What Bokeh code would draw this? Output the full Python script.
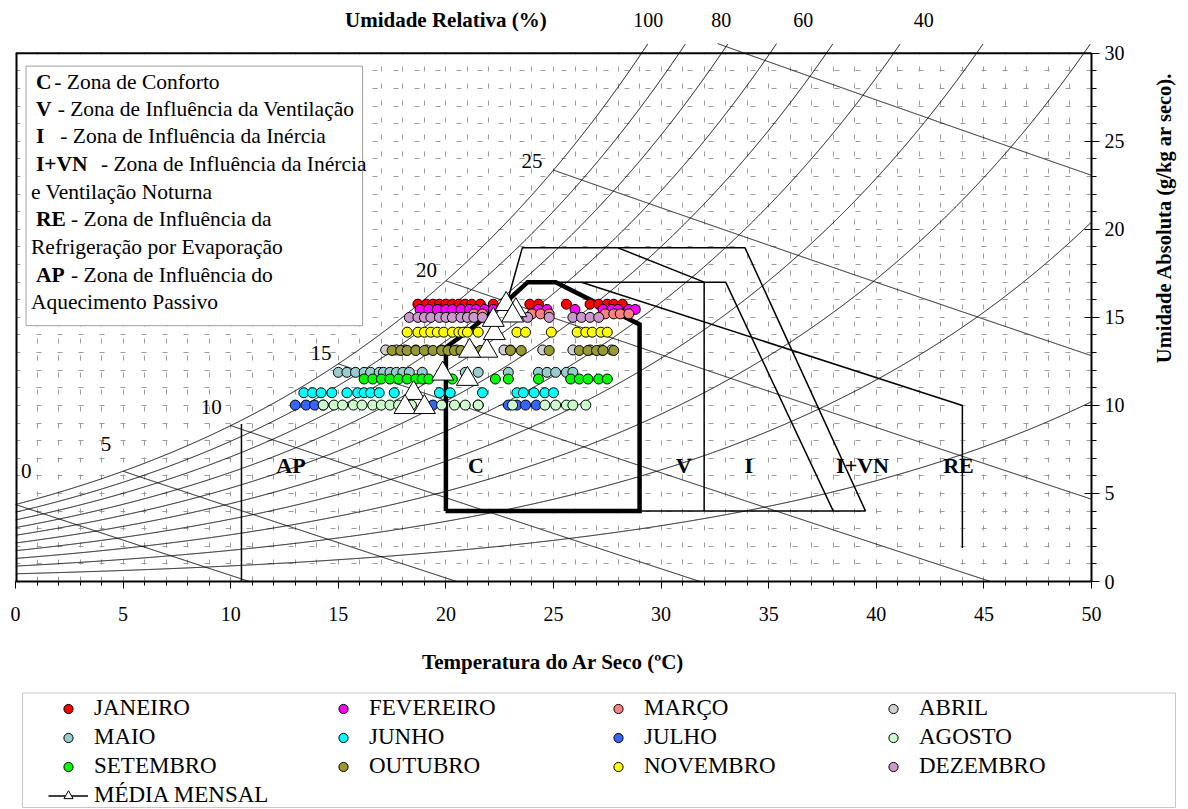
import math
import numpy as np
from bokeh.plotting import figure
from bokeh.layouts import column
from bokeh.models import Range1d, SingleIntervalTicker, FixedTicker, Legend, LegendItem, LinearAxis
from bokeh.embed import file_html
from bokeh.resources import INLINE
from bokeh.core.properties import value

FONT = "Liberation Serif"

# ---------------- data ----------------
months = ["JANEIRO", "FEVEREIRO", "MARÇO", "ABRIL", "MAIO", "JUNHO",
          "JULHO", "AGOSTO", "SETEMBRO", "OUTUBRO", "NOVEMBRO", "DEZEMBRO"]
month_colors = ["#FF0000", "#FF00FF", "#FF8080", "#D0D0D0", "#99CCCC", "#00FFFF",
                "#3366FF", "#CCFFCC", "#00FF00", "#999933", "#FFFF00", "#CC99CC"]
month_w = [15.75, 15.45, 15.2, 13.15, 11.88, 10.72, 10.02, 10.02, 11.5, 13.12, 14.16, 15.0]

jan_T = [18.7, 19.1, 19.4, 19.7, 20.0, 20.3, 20.6, 20.9, 21.2, 21.6, 22.2, 23.9, 24.3, 25.6, 26.7, 27.1, 27.5, 27.8, 28.2]
fev_T = [18.8, 19.2, 19.6, 20.0, 20.3, 20.7, 21.1, 21.4, 21.8, 22.2, 24.3, 24.7, 26.0, 27.3, 27.7, 28.0, 28.5, 28.8]
mar_T = [21.3, 21.7, 24.0, 24.4, 24.8, 27.4, 27.8, 28.1, 28.5]
abr_T = [17.2, 17.7, 18.1, 18.6, 19.1, 19.8, 20.5, 21.2, 22.7, 23.0, 24.5, 25.9, 26.7, 27.2, 27.7]
mai_T = [15.0, 15.4, 15.8, 16.2, 16.5, 16.9, 17.1, 17.4, 17.7, 18.0, 18.3, 18.9, 20.9, 21.5, 22.9, 24.3, 24.7, 25.1, 25.6, 25.9]
jun_T = [13.4, 13.8, 14.2, 14.7, 15.4, 15.9, 16.2, 16.5, 16.9, 17.6, 19.7, 20.2, 21.7, 23.3, 23.6, 24.1, 24.6, 25.0]
jul_T = [13.0, 13.5, 13.9, 14.3, 19.4, 21.5, 22.9, 23.3, 23.7, 24.2]
ago_T = [14.3, 14.8, 15.2, 15.7, 16.1, 16.6, 17.0, 17.4, 17.8, 18.4, 19.8, 20.4, 20.9, 21.5, 23.1, 24.6, 25.1, 25.6, 25.9, 26.5]
set_T = [16.2, 16.6, 17.0, 17.4, 17.8, 18.2, 18.6, 18.9, 19.2, 20.3, 22.3, 22.9, 24.3, 25.8, 26.2, 26.6, 27.1, 27.5]
out_T = [17.5, 17.9, 18.2, 18.6, 19.0, 19.4, 19.8, 20.1, 20.4, 20.7, 21.1, 21.6, 23.0, 23.5, 24.8, 26.2, 26.6, 27.0, 27.3, 27.8]
nov_T = [18.2, 18.7, 19.0, 19.3, 19.6, 19.9, 20.3, 20.6, 20.8, 21.0, 21.5, 23.3, 23.7, 24.9, 26.1, 26.5, 26.8, 27.2, 27.5]
dez_T = [18.3, 18.7, 19.0, 19.3, 19.7, 20.0, 20.3, 20.7, 21.0, 21.3, 21.7, 23.8, 24.8, 25.9, 26.3, 26.7, 27.1]
month_T = [jan_T, fev_T, mar_T, abr_T, mai_T, jun_T, jul_T, ago_T, set_T, out_T, nov_T, dez_T]

mean_T = [22.8, 23.25, 23.1, 21.9, 19.85, 18.5, 18.1, 19.0, 21.0, 21.1, 22.25, 22.2]
mean_w = [15.75, 15.4, 15.1, 13.1, 11.8, 10.7, 9.9, 9.9, 11.5, 13.1, 14.1, 14.85]

rh_levels = [100, 90, 80, 70, 60, 50, 40, 30, 20, 10]
rh_label_text = ["100", "80", "60", "40"]
rh_label_T = [29.4, 32.8, 36.6, 42.2]
rh_title = "Umidade Relativa (%)"
top_label_w = 31.9

wb_levels = [0, 5, 10, 15, 20, 25, 30]
wb_label_text = ["0", "5", "10", "15", "20", "25"]
wb_label_T = [0.5, 4.2, 9.1, 14.2, 19.1, 24.0]
wb_label_w = [6.3, 7.8, 9.9, 13.0, 17.7, 23.9]

comfort_T = [20, 20, 21, 22, 23, 23.8, 25.1, 29, 29, 20]
comfort_w = [4, 13.3, 14.2, 15.15, 16.1, 17, 17, 14.6, 4, 4]
zone_lines_T = [[22.9, 23.55, 33.9, 39.5], [28.0, 32.0, 32.0], [25.1, 33.0, 38.0],
                [29.0, 39.5], [26.3, 44.0, 44.0], [10.5, 10.5]]
zone_lines_w = [[16.1, 18.95, 18.95, 4.0], [18.95, 17.0, 4.0], [17.0, 17.0, 4.0],
                [4.0, 4.0], [17.0, 10.0, 1.9], [0.0, 8.95]]
zone_label_text = ["AP", "C", "V", "I", "I+VN", "RE"]
zone_label_T = [12.8, 21.4, 31.05, 34.07, 39.36, 43.82]
zone_label_w = [6.56] * 6

info_box = dict(left=0.49, right=16.13, bottom=14.53, top=29.27)
info_rows_w = [28.37, 26.86, 25.28, 23.73, 22.12, 20.56, 18.99, 17.42, 15.9]
info_bold_text = ["C", "V", "I", "I+VN", "RE", "AP"]
info_bold_rows = [0, 1, 2, 3, 5, 7]
info_bold_T = 0.95
info_normal_text = ["- Zona de Conforto", "- Zona de Influência da Ventilação",
                    "- Zona de Influência da Inércia", "- Zona de Influência da Inércia",
                    "e Ventilação Noturna", "- Zona de Influência da",
                    "Refrigeração por Evaporação", "- Zona de Influência do",
                    "Aquecimento Passivo"]
info_normal_T = [1.80, 1.96, 2.08, 3.97, 0.72, 2.58, 0.72, 2.58, 0.72]

y_title = "Umidade Absoluta (g/kg ar seco)."
y_title_pos = 124   # tenths of g/kg: where the rotated title starts

P_ATM = 87.5     # kPa, station pressure of the psychrometric chart
W_MAX = 30.0     # top of the chart
W_EXT = 30.55    # curves run slightly past the top edge
Y_TOP = 32.6


def p_sat(t):
    return 0.61078 * np.exp(17.27 * t / (t + 237.3))


def w_sat(t):
    ps = p_sat(t)
    return 622.0 * ps / (P_ATM - ps)


# ---------------- main figure ----------------
p = figure(frame_width=1076, frame_height=574,
           x_range=Range1d(0, 50), y_range=Range1d(0, Y_TOP),
           y_axis_location="right", output_backend="svg", toolbar_location=None,
           min_border_left=15, min_border_top=7, min_border_right=2, min_border_bottom=0)
p.background_fill_color = "white"
p.outline_line_color = None
p.extra_y_ranges = {"tenths": Range1d(0, Y_TOP * 10)}

xa = p.xaxis[0]
ya = p.yaxis[0]
for ax in (xa, ya):
    ax.axis_line_width = 2
    ax.axis_line_color = "black"
    ax.major_label_text_font = FONT
    ax.major_label_text_font_size = "20px"
    ax.major_label_text_color = "black"
    ax.axis_label_text_font = FONT
    ax.axis_label_text_font_style = "bold"
    ax.axis_label_text_color = "black"
xa.ticker = SingleIntervalTicker(interval=5, num_minor_ticks=5)
xa.major_tick_out = 7
xa.major_tick_in = 0
xa.minor_tick_out = 4
xa.minor_tick_in = 0
xa.major_label_standoff = 18
xa.axis_label = "Temperatura do Ar Seco (ºC)"
xa.axis_label_text_font_size = "21px"
xa.axis_label_standoff = 26

ya.ticker = FixedTicker(ticks=[0, 5, 10, 15, 20, 25, 30], minor_ticks=list(range(0, 31)))
ya.bounds = (0, W_MAX)
ya.major_tick_out = 8
ya.major_tick_in = 7
ya.minor_tick_out = 5
ya.minor_tick_in = 0
ya.major_label_standoff = 5

# rotated title of the humidity axis
ya2 = LinearAxis(y_range_name="tenths", ticker=FixedTicker(ticks=[y_title_pos]),
                 major_label_overrides={y_title_pos: y_title},
                 major_label_orientation=math.pi / 2,
                 major_label_text_font=FONT, major_label_text_font_style="bold",
                 major_label_text_font_size="20.5px", major_label_text_color="black",
                 major_label_standoff=37,
                 axis_line_color=None, major_tick_line_color=None, minor_tick_line_color=None,
                 major_tick_out=0, major_tick_in=0, minor_tick_out=0, minor_tick_in=0)
p.add_layout(ya2, "right")

p.xgrid.ticker = FixedTicker(ticks=list(range(1, 50)))
p.ygrid.ticker = FixedTicker(ticks=list(range(1, 30)))
p.xgrid.grid_line_color = "#9c9c9c"
p.ygrid.grid_line_color = "#9c9c9c"
p.xgrid.grid_line_dash = "5 12"
p.ygrid.grid_line_dash = "5 16"

# blank band above the chart (holds the relative humidity labels)
p.quad(left=[0], right=[50], bottom=[W_MAX], top=[40], fill_color="white", line_color=None)

# relative humidity curves
T_grid = np.linspace(0, 50, 2501)
rh_xs, rh_ys = [], []
for rh in rh_levels:
    w = rh / 100.0 * w_sat(T_grid)
    m = w <= W_EXT
    rh_xs.append(T_grid[m].tolist())
    rh_ys.append(w[m].tolist())
p.multi_line(rh_xs, rh_ys, line_color="black", line_width=1)

# wet bulb lines
wb_xs, wb_ys = [], []
for twb in wb_levels:
    ws = w_sat(twb) / 1000.0
    t = np.linspace(twb, 60, 3000)
    W = ((2501 - 2.326 * twb) * ws - 1.006 * (t - twb)) / (2501 + 1.86 * t - 4.186 * twb) * 1000
    m = (W >= -3) & (W <= W_EXT)
    wb_xs.append(t[m].tolist())
    wb_ys.append(W[m].tolist())
p.multi_line(wb_xs, wb_ys, line_color="black", line_width=1)

# chart frame (top and left edges; bottom/right are the axes)
p.line([0, 50], [W_MAX, W_MAX], line_color="black", line_width=2)
p.line([0, 0], [0, W_MAX], line_color="black", line_width=4)

# zones
p.multi_line(zone_lines_T, zone_lines_w, line_color="black", line_width=1.5)
p.line(comfort_T, comfort_w, line_color="black", line_width=4.5, line_join="miter")

p.text(zone_label_T, zone_label_w, text=zone_label_text, text_font=value(FONT),
       text_font_size="22px", text_font_style="bold", text_align="center",
       text_baseline="middle", text_color="black")
p.text(wb_label_T, wb_label_w, text=wb_label_text, text_font=value(FONT),
       text_font_size="21px", text_align="center", text_baseline="middle", text_color="black")

# top labels (relative humidity)
p.text([20.0], [top_label_w], text=[rh_title], text_font=value(FONT), text_font_size="21px",
       text_font_style="bold", text_align="center", text_baseline="middle", text_color="black")
p.text(rh_label_T, [top_label_w] * len(rh_label_T), text=rh_label_text, text_font=value(FONT),
       text_font_size="20px", text_align="center", text_baseline="middle", text_color="black")

# info box
p.quad(left=[info_box["left"]], right=[info_box["right"]], bottom=[info_box["bottom"]],
       top=[info_box["top"]], fill_color="white", line_color="#a0a0a0", line_width=1)
p.text([info_bold_T] * len(info_bold_text), [info_rows_w[i] for i in info_bold_rows],
       text=info_bold_text, text_font=value(FONT), text_font_size="21.5px",
       text_font_style="bold", text_baseline="middle", text_color="black")
p.text(info_normal_T, info_rows_w, text=info_normal_text, text_font=value(FONT),
       text_font_size="21.5px", text_baseline="middle", text_color="black")

# monthly data
for name, col, w, ts in zip(months, month_colors, month_w, month_T):
    p.scatter(ts, [w] * len(ts), marker="circle", size=10, fill_color=col,
              line_color="black", line_width=1)
p.scatter(mean_T, mean_w, marker="triangle", size=22, fill_color="white",
          line_color="black", line_width=1)

# ---------------- legend strip ----------------
LEG_H = 133
LEG_W = 1188
p2 = figure(width=LEG_W, height=LEG_H, x_range=Range1d(0, LEG_W), y_range=Range1d(0, LEG_H),
            x_axis_location=None, y_axis_location=None, output_backend="svg",
            toolbar_location=None, min_border=0)
try:
    p2.frame_align = False
except Exception:
    pass
p2.outline_line_color = None
p2.grid.grid_line_color = None
p2.quad(left=[22], right=[1175], top=[LEG_H - 16.5], bottom=[2], fill_color=None,
        line_color="#c8c8c8", line_width=1)

# legend swatches: one hidden point each (outside the visible range)
hx, hy = [-1000], [-1000]
items = []
for name, col in zip(months, month_colors):
    r = p2.scatter(x=hx, y=hy, marker="circle", fill_color=col, line_color="black", line_width=1)
    items.append(LegendItem(label=name, renderers=[r]))
lr = p2.line(x=hx + [-999], y=hy + [-999], line_color="black", line_width=1.5)
tr = p2.scatter(x=hx, y=hy, marker="triangle", fill_color="white", line_color="black", line_width=1)
items.append(LegendItem(label="MÉDIA MENSAL", renderers=[lr, tr]))

legend = Legend(items=items, orientation="horizontal", ncols=4, location=(48, 1),
                label_text_font=FONT, label_text_font_size="23px", label_text_color="black",
                padding=4, spacing=3, glyph_width=40, glyph_height=23, label_height=23,
                label_standoff=6, label_width=226, margin=0,
                border_line_color=None, background_fill_alpha=0)
p2.add_layout(legend, "center")

layout = column(p, p2, spacing=0)
open("out.html", "w").write(file_html(layout, INLINE))
